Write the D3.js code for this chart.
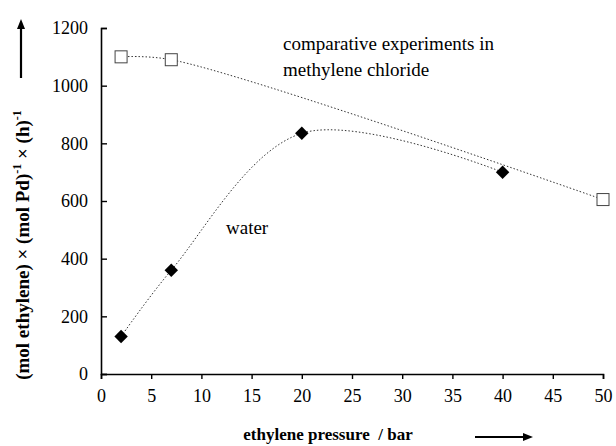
<!DOCTYPE html>
<html>
<head>
<meta charset="utf-8">
<script src="https://cdn.jsdelivr.net/npm/d3@7"></script>
<style>
  body { margin: 0; background: #fff; }
</style>
</head>
<body>
<div id="chart"></div>
<script>
// ── Data ───────────────────────────────────────────────────────────────────
const dcmPressure = [2, 7, 50];
const dcmRate     = [1100, 1090, 605];
const waterPressure = [2, 7, 20, 40];
const waterRate     = [130, 360, 835, 700];
const xTicks = [0, 5, 10, 15, 20, 25, 30, 35, 40, 45, 50];
const yTicks = [0, 200, 400, 600, 800, 1000, 1200];

const SERIF = "'Liberation Serif', Tinos, 'Times New Roman', Times, 'DejaVu Serif', serif";

// ── Dimensions ─────────────────────────────────────────────────────────────
const width = 616, height = 446;
const svg = d3.select("#chart").append("svg")
  .attr("width", width).attr("height", height)
  .attr("font-family", SERIF);

const x = d3.scaleLinear().domain([0, 50]).range([101, 603]);
const y = d3.scaleLinear().domain([0, 1200]).range([374, 28]);

// ── Axes ───────────────────────────────────────────────────────────────────
const xAxis = svg.append("g")
  .attr("transform", `translate(0,${y(0)})`)
  .call(d3.axisBottom(x).tickValues(xTicks).tickFormat(d3.format("d")).tickSize(5).tickPadding(10));
const yAxis = svg.append("g")
  .attr("transform", `translate(${x(0)},0)`)
  .call(d3.axisLeft(y).tickValues(yTicks).tickFormat(d3.format("d")).tickSize(-6).tickPadding(13));

[xAxis, yAxis].forEach(a => {
  a.attr("font-family", SERIF).attr("font-size", 18);
  a.select(".domain").attr("stroke", "#000").attr("stroke-width", 1.6);
  a.selectAll(".tick line").attr("stroke", "#000").attr("stroke-width", 1.4);
  a.selectAll(".tick text").attr("fill", "#000");
});

// ── Lines ──────────────────────────────────────────────────────────────────
const line = d3.line().x(d => x(d[0])).y(d => y(d[1])).curve(d3.curveCatmullRom);
const dcm = dcmPressure.map((p, i) => [p, dcmRate[i]]);
const water = waterPressure.map((p, i) => [p, waterRate[i]]);

[dcm, water].forEach(s => {
  svg.append("path").datum(s)
    .attr("d", line)
    .attr("fill", "none")
    .attr("stroke", "#333")
    .attr("stroke-width", 1)
    .attr("stroke-dasharray", "1.5,2");
});

// markers
svg.selectAll(".sq").data(dcm).enter().append("rect")
  .attr("x", d => x(d[0]) - 6).attr("y", d => y(d[1]) - 6)
  .attr("width", 12).attr("height", 12)
  .attr("fill", "#fff").attr("stroke", "#444").attr("stroke-width", 1);

const diamond = d3.symbol().type(d3.symbolSquare).size(90);
svg.selectAll(".dm").data(water).enter().append("path")
  .attr("d", diamond)
  .attr("transform", d => `translate(${x(d[0])},${y(d[1])}) rotate(45)`)
  .attr("fill", "#000");

// ── Annotations ────────────────────────────────────────────────────────────
svg.append("text").attr("x", 283).attr("y", 50).attr("font-size", 19)
  .text("comparative experiments in");
svg.append("text").attr("x", 283).attr("y", 76).attr("font-size", 19)
  .text("methylene chloride");
svg.append("text").attr("x", 226).attr("y", 234).attr("font-size", 19)
  .text("water");

// x title + arrow
svg.append("text").attr("x", 328).attr("y", 440)
  .attr("text-anchor", "middle")
  .attr("font-size", 17).attr("font-weight", "bold")
  .text("ethylene pressure\u00a0 / bar");

const arrowHead = (px, py, dir) => {
  const pts = dir === "right"
    ? [[px, py], [px - 10, py - 4], [px - 10, py + 4]]
    : [[px, py], [px - 4, py + 10], [px + 4, py + 10]];
  svg.append("path").attr("d", d3.line()(pts) + "Z").attr("fill", "#000");
};
svg.append("line").attr("x1", 475).attr("x2", 524).attr("y1", 437).attr("y2", 437)
  .attr("stroke", "#000").attr("stroke-width", 2.2);
arrowHead(533, 437, "right");

// y title + arrow
const yTitle = svg.append("text")
  .attr("transform", "translate(29,245) rotate(-90)")
  .attr("text-anchor", "middle")
  .attr("font-size", 19).attr("font-weight", "bold");
yTitle.append("tspan").text("(mol ethylene) \u00d7 (mol Pd)");
yTitle.append("tspan").attr("dy", -8).attr("font-size", 12).text("-1");
yTitle.append("tspan").attr("dy", 8).text(" \u00d7 (h)");
yTitle.append("tspan").attr("dy", -8).attr("font-size", 12).text("-1");

svg.append("line").attr("x1", 21).attr("x2", 21).attr("y1", 78).attr("y2", 28)
  .attr("stroke", "#000").attr("stroke-width", 2.2);
arrowHead(21, 19, "up");
</script>
</body>
</html>
